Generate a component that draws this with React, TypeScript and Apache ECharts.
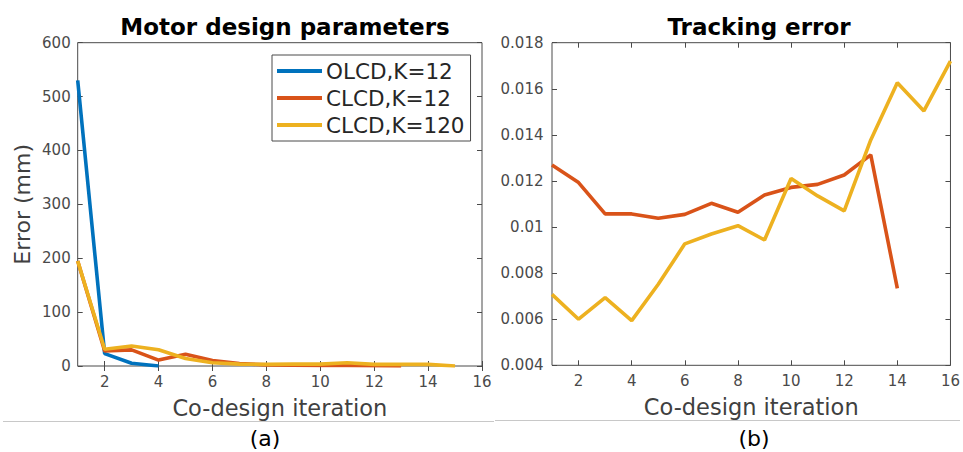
import React, { useEffect, useRef } from "react";
import * as echarts from "echarts";

const seriesNames = ["OLCD,K=12", "CLCD,K=12", "CLCD,K=120"];
const colors = ["#0072BD", "#D95319", "#EDB120"];

// Motor design parameters (Error in mm), index i -> iteration i+1
const olcdK12Motor = [530, 23, 5, 0];
const clcdK12Motor = [195, 28, 30, 11, 22, 10, 4.5, 2, 1.5, 1, 1, 0.5, 0];
const clcdK120Motor = [195, 31, 37, 30, 14, 6, 3.5, 3, 3.5, 3.5, 6, 3, 3, 3, 0];

// Tracking error
const clcdK12Track = [0.01269, 0.01193, 0.01057, 0.01057, 0.01038, 0.01055, 0.01103, 0.01064, 0.01139, 0.01172, 0.01185, 0.01226, 0.01313, 0.00734];
const clcdK120Track = [0.00708, 0.006, 0.00694, 0.00594, 0.00752, 0.00927, 0.0097, 0.01006, 0.00944, 0.01211, 0.01135, 0.0107, 0.01378, 0.01626, 0.01504, 0.0172];

const xTicks = [2, 4, 6, 8, 10, 12, 14, 16];
const titles = ["Motor design parameters", "Tracking error"];
const xName = "Co-design iteration";
const yNameA = "Error (mm)";
const captions = ["(a)", "(b)"];

const FONT = "DejaVu Sans";
const AX = "#4a4a4a";

const pairs = (arr: number[]) => arr.map((v, i) => [i + 1, v]);

export default function App() {
  const ref = useRef<HTMLDivElement>(null);
  useEffect(() => {
    if (!ref.current) return;
    const chart = echarts.init(ref.current, null, { renderer: "svg" });

    const grids = [
      { left: 77.7, top: 42.7, width: 404.3, height: 323.3, show: true, borderColor: AX, borderWidth: 1, backgroundColor: "#fff" },
      { left: 552, top: 42.7, width: 403.7, height: 322.6, show: true, borderColor: AX, borderWidth: 1, backgroundColor: "#fff" },
    ];

    const xBase = (g: number, pos: "bottom" | "top", labels: boolean) => ({
      type: "value",
      gridIndex: g,
      position: pos,
      min: 1,
      max: 16,
      axisLine: { show: false },
      splitLine: { show: false },
      axisTick: { show: true, inside: true, length: 5, lineStyle: { color: AX }, customValues: xTicks },
      axisLabel: labels
        ? { show: true, customValues: xTicks, margin: 8, color: AX, fontFamily: FONT, fontSize: 15 }
        : { show: false },
      ...(labels && pos === "bottom"
        ? {
            name: xName,
            nameLocation: "middle",
            nameGap: 30,
            nameTextStyle: { color: "#404040", fontFamily: FONT, fontSize: 22.5 },
          }
        : {}),
    });

    const yBase = (g: number, pos: "left" | "right", labels: boolean, min: number, max: number, interval: number, margin: number) => ({
      type: "value",
      gridIndex: g,
      position: pos,
      min,
      max,
      interval,
      axisLine: { show: false },
      splitLine: { show: false },
      axisTick: { show: true, inside: true, length: 5, lineStyle: { color: AX } },
      axisLabel: labels ? { show: true, margin, color: AX, fontFamily: FONT, fontSize: 15 } : { show: false },
    });

    const yA: any = yBase(0, "left", true, 0, 600, 100, 7);
    yA.name = yNameA;
    yA.nameLocation = "middle";
    yA.nameGap = 44;
    yA.nameTextStyle = { color: "#404040", fontFamily: FONT, fontSize: 22 };

    const line = (name: string, idx: number, data: number[][], axisIndex: number) => ({
      type: "line",
      name,
      xAxisIndex: axisIndex,
      yAxisIndex: axisIndex,
      data,
      showSymbol: false,
      symbol: "none",
      lineStyle: { width: 3.6, color: colors[idx] },
      itemStyle: { color: colors[idx] },
      z: 2 + idx,
    });

    chart.setOption({
      animation: false,
      backgroundColor: "#fff",
      title: [
        { text: titles[0], left: 280, top: 10, textAlign: "center", textStyle: { fontFamily: FONT, fontSize: 23, fontWeight: "bold", color: "#000" } },
        { text: titles[1], left: 754, top: 10, textAlign: "center", textStyle: { fontFamily: FONT, fontSize: 23, fontWeight: "bold", color: "#000" } },
      ],
      legend: {
        data: seriesNames,
        orient: "vertical",
        left: 272,
        top: 55,
        padding: [4, 6, 4, 5],
        itemGap: 3,
        itemWidth: 45,
        itemHeight: 4,
        icon: "rect",
        borderColor: AX,
        borderWidth: 1,
        backgroundColor: "#fff",
        textStyle: { fontFamily: FONT, fontSize: 21.5, color: "#262626", lineHeight: 24, padding: [0, 0, 0, -1] },
        selectedMode: false,
      },
      grid: grids,
      xAxis: [xBase(0, "bottom", true), xBase(0, "top", false), xBase(1, "bottom", true), xBase(1, "top", false)],
      yAxis: [
        yA,
        yBase(0, "right", false, 0, 600, 100, 7),
        yBase(1, "left", true, 0.004, 0.018, 0.002, 8.5),
        yBase(1, "right", false, 0.004, 0.018, 0.002, 8.5),
      ],
      series: [
        line(seriesNames[0], 0, pairs(olcdK12Motor), 0),
        line(seriesNames[1], 1, pairs(clcdK12Motor), 0),
        line(seriesNames[2], 2, pairs(clcdK120Motor), 0),
        line(seriesNames[1], 1, pairs(clcdK12Track), 2),
        line(seriesNames[2], 2, pairs(clcdK120Track), 2),
      ],
      graphic: [
        { type: "line", shape: { x1: 3, y1: 421.5, x2: 494, y2: 421.5 }, style: { stroke: "#c8c8c8", lineWidth: 1 } },
        { type: "line", shape: { x1: 495, y1: 420.5, x2: 960, y2: 420.5 }, style: { stroke: "#c8c8c8", lineWidth: 1 } },
        { type: "text", x: 265, y: 438, style: { text: captions[0], font: `22px "${FONT}"`, fill: "#000", textAlign: "center", textVerticalAlign: "middle" } },
        { type: "text", x: 754, y: 438, style: { text: captions[1], font: `22px "${FONT}"`, fill: "#000", textAlign: "center", textVerticalAlign: "middle" } },
      ],
    });

    return () => chart.dispose();
  }, []);

  return <div ref={ref} style={{ position: "fixed", left: 0, top: 0, width: 963, height: 452 }} />;
}
